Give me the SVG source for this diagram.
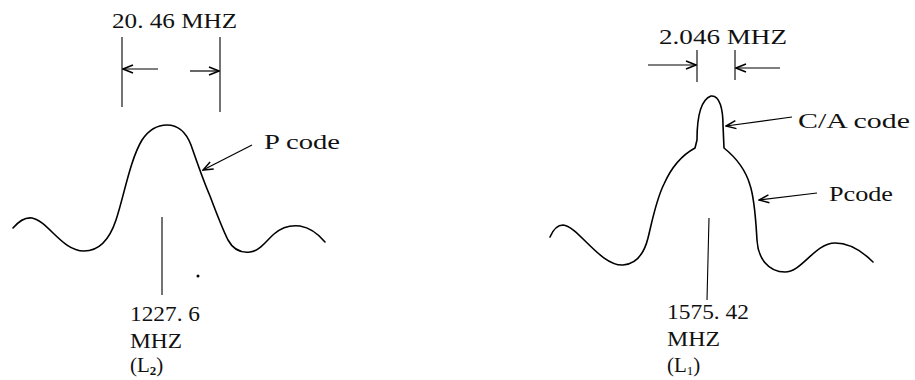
<svg xmlns="http://www.w3.org/2000/svg" width="915" height="380" viewBox="0 0 915 380">
<style>
.c{fill:none;stroke:#000;stroke-width:1.6;stroke-linecap:round;stroke-linejoin:round}
.l{fill:none;stroke:#000;stroke-width:1.1}
.a{fill:none;stroke:#000;stroke-width:1.2;marker-end:url(#ah)}
text{font-family:"Liberation Serif","Times New Roman",serif;font-size:21px;fill:#111}
</style>
<defs>
<marker id="ah" viewBox="0 0 12 10" refX="11" refY="5" markerWidth="12" markerHeight="10" markerUnits="userSpaceOnUse" orient="auto">
<path d="M1,1 L11,5 L1,9" fill="none" stroke="#000" stroke-width="1.5"/>
</marker>
</defs>
<rect width="915" height="380" fill="#fff"/>

<g id="l2-spectrum">
<path class="c" d="M13,228 C19,221 25,217 32,218 C48,221 62,251 84,251 C100,251 110,238 116,220 C124,196 130,160 142,140 C150,128 158,125 167,125 C178,125 186,132 191,145 C197,162 203,180 210,196 C216,212 222,228 228,240 C234,251 242,253 250,252 C260,251 266,241 274,234 C282,227 292,225 300,226 C312,228 320,236 325,242"/>
</g>
<g id="l2-bandwidth">
<text x="112" y="28" textLength="125" lengthAdjust="spacingAndGlyphs">20. 46  MHZ</text>
</g>
<g id="l2-pcode-label">
<text x="264" y="149" textLength="76" lengthAdjust="spacingAndGlyphs">P  code</text>
</g>
<g id="l2-freq">
<text x="130" y="321" textLength="70" lengthAdjust="spacingAndGlyphs">1227. 6</text>
<text x="130" y="348" textLength="52" lengthAdjust="spacingAndGlyphs">MHZ</text>
<text x="130" y="372">(L<tspan font-size="13" font-weight="bold" dy="3">2</tspan><tspan dy="-3">)</tspan></text>
</g>
<circle cx="198" cy="276" r="1.5" fill="#000"/>

<g id="l1-spectrum">
<path class="c" d="M550,237 C553,230 557,225 563,225 C578,226 600,266 623,265 C638,264 645,250 648,238 C652,222 656,200 664,184 C672,166 684,154 695,148 L697,140 C697,120 700,100 711,96 C720,95 723,110 723,125 L724,148 C734,156 745,168 750,185 C755,200 756,225 757,240 C758,258 768,272 785,272 C802,272 815,243 835,243 C852,243 866,255 873,262"/>
</g>
<g id="l1-bandwidth">
<text x="659" y="44" textLength="128" lengthAdjust="spacingAndGlyphs">2.046 MHZ</text>
</g>
<g id="l1-ca-label">
<text x="798" y="128" textLength="112" lengthAdjust="spacingAndGlyphs">C/A  code</text>
</g>
<g id="l1-pcode-label">
<text x="829" y="201" textLength="64" lengthAdjust="spacingAndGlyphs">Pcode</text>
</g>
<g id="l1-freq">
<text x="667" y="319" textLength="82" lengthAdjust="spacingAndGlyphs">1575. 42</text>
<text x="667" y="346" textLength="53" lengthAdjust="spacingAndGlyphs">MHZ</text>
<text x="667" y="372">(L<tspan font-size="13" dy="3">1</tspan><tspan dy="-3">)</tspan></text>
</g>

<g id="connectors">
<line class="l" x1="122" y1="37" x2="122" y2="107"/>
<line class="l" x1="220" y1="37" x2="220" y2="112"/>
<line class="a" x1="158" y1="69" x2="123" y2="69"/>
<line class="a" x1="190" y1="71" x2="219" y2="71"/>
<line class="a" x1="252" y1="145" x2="203" y2="170"/>
<line class="l" x1="162" y1="217" x2="162" y2="295"/>

<line class="l" x1="697" y1="50" x2="697" y2="82"/>
<line class="l" x1="735" y1="50" x2="735" y2="80"/>
<line class="a" x1="648" y1="65" x2="696" y2="65"/>
<line class="a" x1="780" y1="68" x2="736" y2="68"/>
<line class="a" x1="792" y1="117" x2="726" y2="126"/>
<line class="a" x1="817" y1="193" x2="759" y2="200"/>
<line class="l" x1="709" y1="218" x2="707" y2="300"/>
</g>
</svg>
